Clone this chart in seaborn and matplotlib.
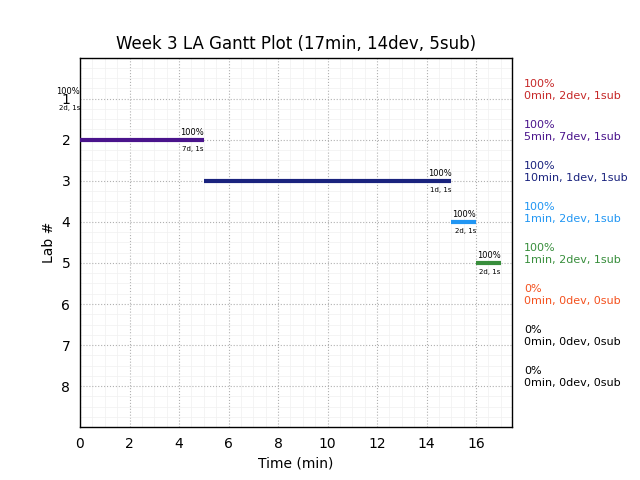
import matplotlib
matplotlib.use("Agg")
import matplotlib.pyplot as plt
import seaborn as sns
import pandas as pd
from matplotlib.ticker import MultipleLocator

labs = [1, 2, 3, 4, 5, 6, 7, 8]
starts = [0, 0, 5, 15, 16]
ends = [0, 5, 15, 16, 17]
pct = ["100%", "100%", "100%", "100%", "100%", "0%", "0%", "0%"]
mins = [0, 5, 10, 1, 1, 0, 0, 0]
devs = [2, 7, 1, 2, 2, 0, 0, 0]
subs = [1, 1, 1, 1, 1, 0, 0, 0]
colors = ["#c62828", "#4a148c", "#1a237e", "#2196f3", "#388e3c", "#f4511e", "#000000", "#000000"]
title = "Week 3 LA Gantt Plot (17min, 14dev, 5sub)"

sns.set_style("white")
plt.rcParams["font.family"] = ["DejaVu Sans"]
plt.rcParams["text.color"] = "black"
plt.rcParams["axes.labelcolor"] = "black"
plt.rcParams["xtick.color"] = "black"
plt.rcParams["ytick.color"] = "black"

fig = plt.figure(figsize=(6.4, 4.8), dpi=100)
ax = fig.add_axes([0.125, 0.11, 0.675, 0.77])

rows = []
for i, (s, e) in enumerate(zip(starts, ends)):
    rows.append({"lab": labs[i], "t": s, "seg": str(i)})
    rows.append({"lab": labs[i], "t": e, "seg": str(i)})
df = pd.DataFrame(rows)
sns.lineplot(data=df, x="t", y="lab", hue="seg", units="seg", estimator=None,
             palette=colors[:len(starts)], linewidth=3, legend=False, ax=ax,
             solid_capstyle="butt", zorder=3, sort=False)

for i, (s, e) in enumerate(zip(starts, ends)):
    ax.text(e, labs[i] - 0.06, pct[i], fontsize=6, ha="right", va="bottom", color="black")
    ax.text(e, labs[i] + 0.15, f"{devs[i]}d, {subs[i]}s", fontsize=5, ha="right", va="top", color="black")

for i, lab in enumerate(labs):
    ax.text(17.93, lab + 0.05, f"{pct[i]}\n{mins[i]}min, {devs[i]}dev, {subs[i]}sub",
            fontsize=8, color=colors[i], ha="left", va="bottom", linespacing=1.25, clip_on=False)

ax.set_xlim(0, 17.45)
ax.set_ylim(9, 0)
ax.set_yticks(labs)
ax.set_xticks(range(0, 17, 2))
ax.xaxis.set_minor_locator(MultipleLocator(0.5))
ax.yaxis.set_minor_locator(MultipleLocator(0.25))
ax.grid(True, which="major", color="#b0b0b0", linestyle=":", linewidth=0.8)
ax.grid(True, which="minor", color="#f0f0f0", linestyle="-", linewidth=0.5)
ax.set_axisbelow(True)
ax.tick_params(labelsize=10)
for sp in ax.spines.values():
    sp.set_color("black")
    sp.set_linewidth(1)
ax.set_xlabel("Time (min)", fontsize=10)
ax.set_ylabel("Lab #", fontsize=10)
ax.set_title(title, fontsize=12)

fig.savefig("out.png", dpi=100)
